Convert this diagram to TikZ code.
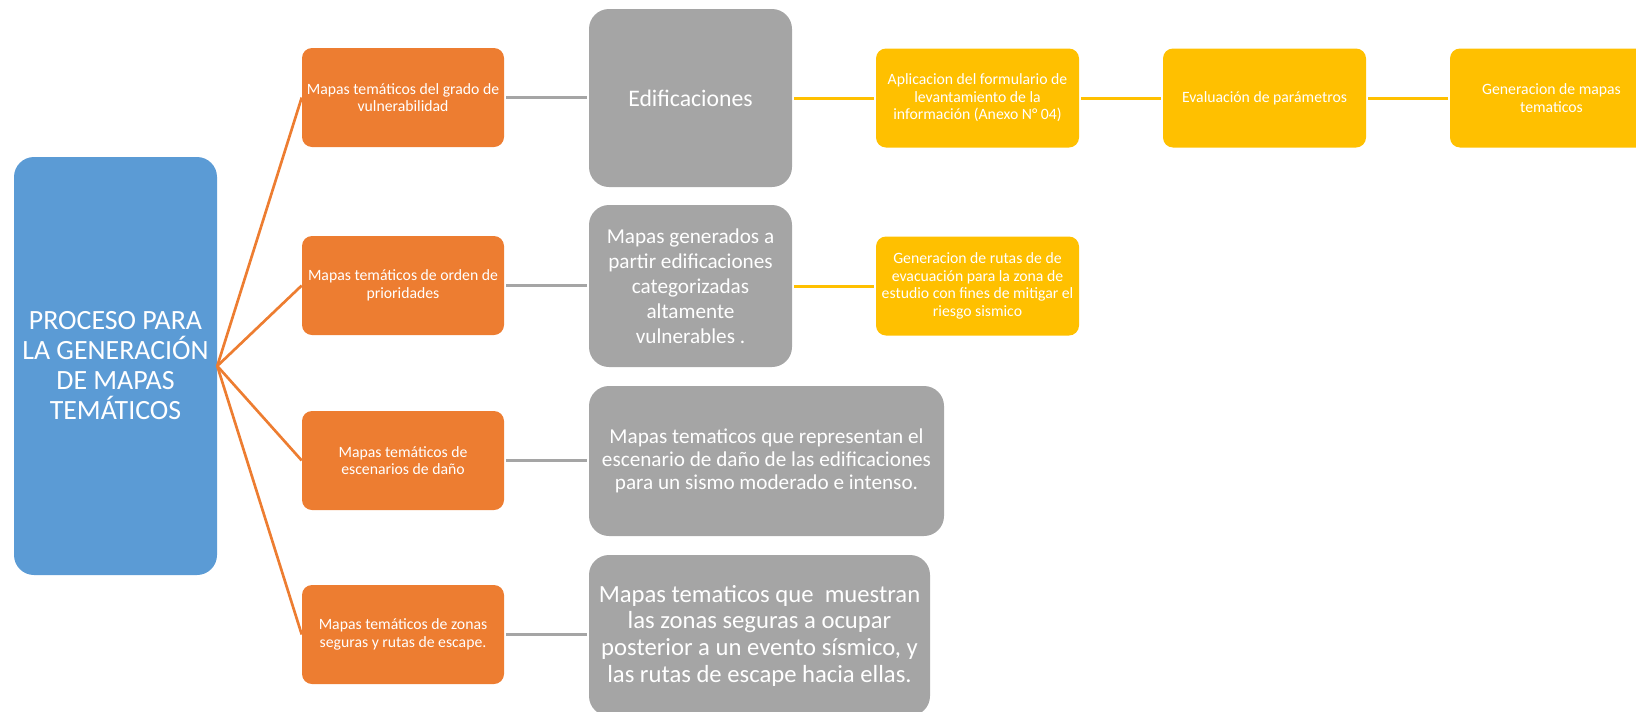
\documentclass[tikz,border=0pt]{standalone}
\usepackage{fontspec}
\setmainfont{Carlito}
\definecolor{cblue}{HTML}{5B9BD5}
\definecolor{corange}{HTML}{ED7D31}
\definecolor{cgray}{HTML}{A5A5A5}
\definecolor{cgold}{HTML}{FFC000}
\tikzset{
  box/.style={rectangle, draw=none, text=white, align=center, inner sep=0pt},
  rootbox/.style={box, fill=cblue, rounded corners=15pt,
    minimum width=152.25pt, minimum height=313.5pt,
    font=\fontsize{20.9}{22.5}\selectfont},
  catbox/.style={box, fill=corange, rounded corners=7.5pt,
    minimum width=151.5pt, minimum height=74.25pt,
    font=\fontsize{11.8}{13.1}\selectfont},
  topicbox/.style={box, fill=cgray, rounded corners=15pt},
  stepbox/.style={box, fill=cgold, rounded corners=7.5pt,
    minimum width=152.25pt, minimum height=74.25pt,
    font=\fontsize{11.8}{13.1}\selectfont},
  oline/.style={draw=corange, line width=2pt},
  gline/.style={draw=cgray, line width=2.25pt, shorten <=1.5pt, shorten >=1.5pt},
  yline/.style={draw=cgold, line width=2.25pt, shorten <=1.5pt, shorten >=1.5pt},
}
\begin{document}
\begin{tikzpicture}[x=0.75pt, y=-0.75pt]
\useasboundingbox (0,0) rectangle (1636,711);

% root
\node[rootbox] (root) at (115.5,366) {PROCESO PARA\\LA GENERACIÓN\\DE MAPAS\\TEMÁTICOS};

% categories
\node[catbox] (o1) at (403,97.5) {Mapas temáticos del grado de\\vulnerabilidad};
\node[catbox] (o2) at (403,285.5) {Mapas temáticos de orden de\\prioridades};
\node[catbox] (o3) at (403,460.5) {Mapas temáticos de\\escenarios de daño};
\node[catbox] (o4) at (403,634.5) {Mapas temáticos de zonas\\seguras y rutas de escape.};

% topics
\node[topicbox, minimum width=152.25pt, minimum height=133.5pt,
  font=\fontsize{17.8}{20}\selectfont] (g1) at (690.5,98) {Edificaciones};
\node[topicbox, minimum width=152.25pt, minimum height=121.5pt,
  font=\fontsize{15.9}{18.8}\selectfont] (g2) at (690.5,286)
  {Mapas generados a\\partir edificaciones\\categorizadas\\altamente\\vulnerables .};
\node[topicbox, minimum width=266.25pt, minimum height=112.5pt,
  font=\fontsize{15.9}{17}\selectfont] (g3) at (766.5,461)
  {Mapas tematicos que representan el\\escenario de daño de las edificaciones\\para un sismo moderado e intenso.};
\node[topicbox, minimum width=255.75pt, minimum height=120.75pt,
  font=\fontsize{18.5}{20}\selectfont] (g4) at (759.5,635.5)
  {Mapas tematicos que\ \ muestran\\las zonas seguras a ocupar\\posterior a un evento sísmico, y\\las rutas de escape hacia ellas.};

% steps
\node[stepbox] (y1) at (977.5,98) {Aplicacion del formulario de\\levantamiento de la\\información (Anexo N° 04)};
\node[stepbox] (y2) at (1264.5,98) {Evaluación de parámetros};
\node[stepbox] (y3) at (1551.5,98) {Generacion de mapas\\tematicos};
\node[stepbox] (y4) at (977.5,286) {Generacion de rutas de de\\evacuación para la zona de\\estudio con fines de mitigar el\\riesgo sismico};

% connectors
\foreach \n in {o1,o2,o3,o4} \draw[oline] (root.east) -- (\n.west);
\draw[gline] (o1.east) -- (o1.east -| g1.west);
\draw[gline] (o2.east) -- (o2.east -| g2.west);
\draw[gline] (o3.east) -- (o3.east -| g3.west);
\draw[gline] (o4.east) -- (o4.east -| g4.west);
\draw[yline] (g1.east) -- (g1.east -| y1.west);
\draw[yline] (y1.east) -- (y2.west);
\draw[yline] (y2.east) -- (y3.west);
\draw[yline] (g2.east) -- (g2.east -| y4.west);
\end{tikzpicture}
\end{document}
